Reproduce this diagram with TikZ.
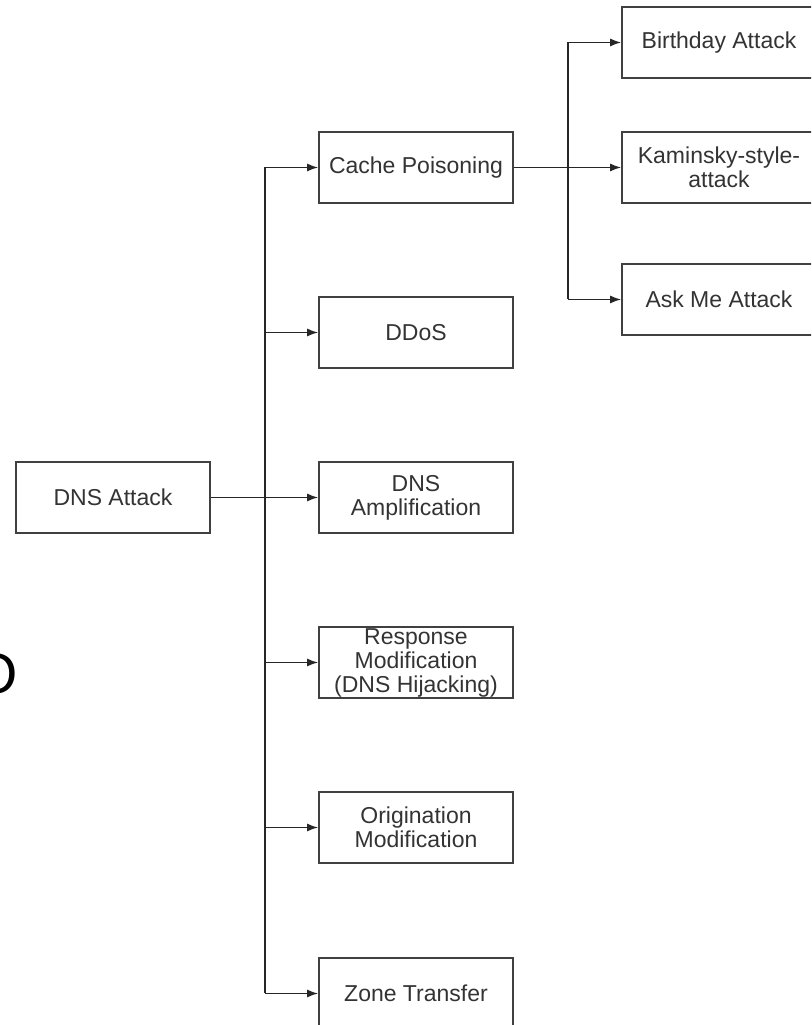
\documentclass[tikz,border=0pt]{standalone}
\usepackage{fontspec}
\setmainfont{Liberation Sans}
\usetikzlibrary{calc}
\usetikzlibrary{shapes,arrows.meta,positioning}

\begin{document}
\begin{tikzpicture}[
     block/.style = {draw=black!75, line width=1.6pt, rectangle, minimum width=194pt,
      minimum height=71pt, inner sep=0pt, align=center, text=black!80,
      font=\fontsize{23}{24}\selectfont, node distance=165pt},
     arrow/.style={draw=black!85, line width=1.6pt, -{Latex[length=11pt,width=8pt]}},
     wire/.style={draw=black!85, line width=1.6pt}
    ]
    \useasboundingbox (0,0) rectangle (811pt,1025pt);
    \clip (0,0) rectangle (811pt,1025pt);

    \node [block] (attack) at (113pt,527.5pt) {DNS Attack};
    \node [block, right of=attack, node distance=303pt] (amp) {DNS\\Amplification};
    \node [block, above of=amp] (ddos) {DDoS};
    \node [block, above of=ddos] (cache) {Cache Poisoning};
    \node [block, below of=amp] (resp) {Response\\Modification\\(DNS Hijacking)};
    \node [block, below of=resp] (orig) {Origination\\Modification};
    \node [block, below of=orig, node distance=166pt] (zone) {Zone Transfer};

    \node [block, right of=cache, node distance=303pt] (kaminsky) {Kaminsky-style-\\attack};
    \node [block, above of=kaminsky, node distance=125pt] (birthday) {Birthday Attack};
    \node [block, below of=kaminsky, node distance=132pt] (askme) {Ask Me Attack};

    \node [font=\fontsize{57}{57}\selectfont, inner sep=0pt] (stray) at (-4pt,351pt) {O};

    \coordinate (trunk) at (265pt,527.5pt);
    \coordinate (fork) at (568pt,858.5pt);

    \draw[arrow] (attack) -- (amp);
    \draw[wire] (trunk |- cache) -- (trunk |- zone);
    \draw[arrow] (trunk |- cache) -- (cache);
    \draw[arrow] (trunk |- ddos) -- (ddos);
    \draw[arrow] (trunk |- resp) -- (resp);
    \draw[arrow] (trunk |- orig) -- (orig);
    \draw[arrow] (trunk |- zone) -- (zone);

    \draw[arrow] (cache) -- (kaminsky);
    \draw[wire] (fork |- birthday) -- (fork |- askme);
    \draw[arrow] (fork |- birthday) -- (birthday);
    \draw[arrow] (fork |- askme) -- (askme);
\end{tikzpicture}
\end{document}
